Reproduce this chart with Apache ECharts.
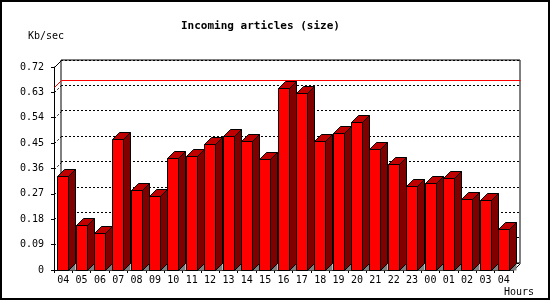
<!DOCTYPE html>
<html><head><meta charset="utf-8">
<script src="https://cdn.jsdelivr.net/npm/echarts@6/dist/echarts.min.js"></script>
<style>html,body{margin:0;padding:0;background:#fff}#c{width:550px;height:300px}</style>
</head><body><div id="c"></div>
<script>
const hours = ['04','05','06','07','08','09','10','11','12','13','14','15','16','17','18','19','20','21','22','23','00','01','02','03','04'];
const kbPerSec = [0.335,0.158,0.130,0.466,0.285,0.261,0.399,0.405,0.448,0.476,0.456,0.395,0.647,0.627,0.456,0.485,0.524,0.428,0.375,0.297,0.307,0.325,0.251,0.247,0.146];
const yTicks = [0,0.09,0.18,0.27,0.36,0.45,0.54,0.63,0.72];
const yTickLabels = ['0','0.09','0.18','0.27','0.36','0.45','0.54','0.63','0.72'];
const titleText = 'Incoming articles (size)';
const yName = 'Kb/sec';
const xName = 'Hours';

const D = 7;
const FONT = '"DejaVu Sans Mono", monospace';
const maxVal = Math.max.apply(null, kbPerSec);
const px = v => Math.round(v) + 0.5;

const chart = echarts.init(document.getElementById('c'), null, {renderer: 'canvas'});

function barItem(params, api) {
  const i = api.value(0), v = api.value(1);
  const p = api.coord([i, v]);
  const b = api.coord([i, 0]);
  const bw = api.size([1, 0])[0];
  const xL = px(p[0] - bw / 2 + bw * 0.18);
  const xR = xL + Math.round(bw * 0.6);
  const yT = px(p[1]);
  const yB = px(b[1]);
  const st = {stroke: '#000', lineWidth: 1};
  return {
    type: 'group',
    children: [
      {type: 'polygon', shape: {points: [[xR, yB], [xR + D, yB - D], [xR + D, yB]]}, style: {fill: '#808080'}},
      {type: 'polygon', shape: {points: [[xL, yT], [xR, yT], [xR, yB], [xL, yB]]}, style: Object.assign({fill: '#ff0000'}, st)},
      {type: 'polygon', shape: {points: [[xR, yT], [xR + D, yT - D], [xR + D, yB - D], [xR, yB]]}, style: Object.assign({fill: '#800000'}, st)},
      {type: 'polygon', shape: {points: [[xL, yT], [xL + D, yT - D], [xR + D, yT - D], [xR, yT]]}, style: Object.assign({fill: '#c00000'}, st)}
    ]
  };
}

function wallItem(params, api) {
  const v = api.value(1);
  const bw = api.size([1, 0])[0];
  const first = api.coord([0, v]);
  const last = api.coord([hours.length - 1, v]);
  const xA = px(first[0] - bw / 2);
  const xZ = px(last[0] + bw / 2);
  const y = px(first[1]);
  if (params.dataIndex === 0) {
    return {type: 'line', shape: {x1: xZ, y1: y, x2: xZ + D, y2: y - D}, style: {stroke: '#000', lineWidth: 1}};
  }
  if (params.dataIndex === yTicks.length - 1) {
    return {type: 'line', shape: {x1: xA, y1: y, x2: xA + D, y2: y - D}, style: {stroke: '#000', lineWidth: 1}};
  }
  return {type: 'line', shape: {x1: xA, y1: y, x2: xA + D, y2: y - D}, style: {stroke: '#000', lineWidth: 1, lineDash: [2, 2]}};
}

function maxItem(params, api) {
  const v = api.value(1);
  const bw = api.size([1, 0])[0];
  const first = api.coord([0, v]);
  const last = api.coord([hours.length - 1, v]);
  const xA = px(first[0] - bw / 2);
  const xZ = px(last[0] + bw / 2);
  const y = Math.round(first[1]) - 0.5;
  return {
    type: 'group',
    children: [
      {type: 'line', shape: {x1: xA, y1: y, x2: xA + D, y2: y - D}, style: {stroke: '#ff0000', lineWidth: 1}},
      {type: 'rect', shape: {x: xA + D, y: y - D - 0.5, width: xZ - xA, height: 1}, style: {fill: '#ff0000'}}
    ]
  };
}

const option = {
  backgroundColor: '#fff',
  animation: false,
  title: {
    text: titleText, left: 176, top: 16,
    textStyle: {fontFamily: FONT, fontSize: 11, fontWeight: 'bold', color: '#000'}
  },
  graphic: [
    {type: 'rect', shape: {x: 1, y: 1, width: 548, height: 298}, style: {fill: null, stroke: '#000', lineWidth: 2}, silent: true},
    {type: 'text', left: 28, top: 31, style: {text: yName, font: '10px ' + FONT, fill: '#000'}},
    {type: 'text', left: 504, top: 287, style: {text: xName, font: '10px ' + FONT, fill: '#000'}}
  ],
  grid: [
    {left: 54, top: 67, width: 459, height: 203},
    {left: 61, top: 60, width: 459, height: 203, show: true, backgroundColor: 'transparent', borderColor: '#000', borderWidth: 1}
  ],
  xAxis: [
    {type: 'category', gridIndex: 0, data: hours, boundaryGap: true,
     axisLine: {show: true, lineStyle: {color: '#000', width: 1}},
     axisTick: {show: true, length: 3, interval: 0, lineStyle: {color: '#000'}},
     axisLabel: {interval: 0, margin: 5, color: '#000', fontFamily: FONT, fontSize: 10},
     splitLine: {show: false}},
    {type: 'category', gridIndex: 1, data: hours, show: false}
  ],
  yAxis: [
    {type: 'value', gridIndex: 0, min: yTicks[0], max: yTicks[yTicks.length - 1], interval: yTicks[1] - yTicks[0],
     axisLine: {show: true, lineStyle: {color: '#000', width: 1}},
     axisTick: {show: true, length: 3, lineStyle: {color: '#000'}},
     axisLabel: {margin: 10, color: '#000', fontFamily: FONT, fontSize: 10,
       formatter: v => { let k = yTicks.findIndex(t => Math.abs(t - v) < 1e-6); return k >= 0 ? yTickLabels[k] : ''; }},
     splitLine: {show: false}},
    {type: 'value', gridIndex: 1, min: yTicks[0], max: yTicks[yTicks.length - 1], interval: yTicks[1] - yTicks[0],
     axisLine: {show: false}, axisTick: {show: false}, axisLabel: {show: false},
     splitLine: {show: true, lineStyle: {color: '#000', width: 1, type: [2, 2]}}}
  ],
  series: [
    {type: 'custom', name: 'wall', xAxisIndex: 0, yAxisIndex: 0, data: yTicks.map(t => [0, t]), renderItem: wallItem, silent: true, z: 1, clip: false},
    {type: 'custom', name: 'max', xAxisIndex: 0, yAxisIndex: 0, data: [[0, maxVal]], renderItem: maxItem, silent: true, z: 2, clip: false},
    {type: 'custom', name: 'size', xAxisIndex: 0, yAxisIndex: 0, data: kbPerSec.map((v, i) => [i, v]), renderItem: barItem, z: 3, clip: false}
  ]
};
chart.setOption(option);
</script></body></html>
